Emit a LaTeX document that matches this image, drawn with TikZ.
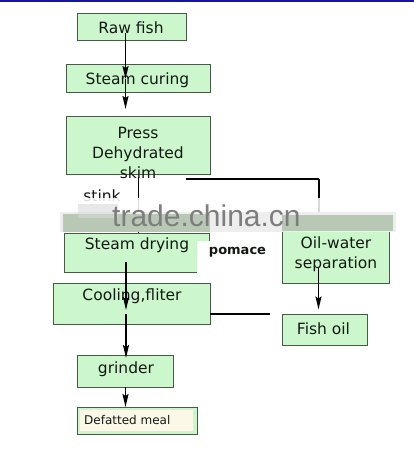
\documentclass[tikz,border=0pt]{standalone}
\usepackage{fontspec}
\setmainfont{DejaVu Sans}
\newfontfamily\wmfont{Liberation Sans}
\newfontfamily\boldfont{DejaVu Sans Bold}
\usetikzlibrary{arrows.meta}
\definecolor{boxgreen}{RGB}{204,246,204}
\definecolor{boxborder}{RGB}{70,90,70}
\definecolor{cream}{RGB}{252,248,232}
\definecolor{topblue}{RGB}{20,20,170}
\definecolor{textc}{RGB}{20,25,20}
\definecolor{wmgray}{RGB}{125,125,125}
\definecolor{wmgreen}{RGB}{184,200,180}
\definecolor{wmlight}{RGB}{238,238,238}
\begin{document}
\begin{tikzpicture}[x=1pt,y=-1pt,
  box/.style={draw=boxborder, line width=0.9pt, fill=boxgreen, inner sep=0pt, rectangle},
  lbl/.style={inner sep=0pt, font=\fontsize{15.5}{20}\selectfont, text=textc, align=center},
  arr/.style={line width=1.6pt, -{Stealth[length=13pt,width=6pt,inset=2pt]}},
  ln/.style={line width=1.3pt}]
\useasboundingbox (0,0) rectangle (414,449);
\fill[white] (0,0) rectangle (414,449);
\fill[topblue] (0,0) rectangle (414,2.5);

% boxes
\node[box, minimum width=109pt, minimum height=27pt] (raw) at (131.5,26.5) {};
\node[lbl] (rawt) at (131,28) {Raw fish};
\node[box, minimum width=144pt, minimum height=28pt] (cur) at (138,78) {};
\node[lbl] (curt) at (137.5,80) {Steam curing};
\node[box, minimum width=144pt, minimum height=58pt] (press) at (138,145) {};
\node[lbl] (presst) at (138,153) {Press\\Dehydrated\\skim};
\node[box, minimum width=145pt, minimum height=39pt] (sdry) at (136.5,252.5) {};
\node[lbl] (sdryt) at (137,245) {Steam drying};
\node[box, minimum width=107pt, minimum height=52pt] (oilw) at (335.5,257) {};
\node[lbl] (oilwt) at (336,254) {Oil-water\\separation};
\fill[white] (197,241) rectangle (277,282);
\node[inner sep=0pt, font=\boldfont\fontsize{13}{13}\selectfont, text=textc] (pom) at (237.5,252) {pomace};
\node[box, minimum width=157pt, minimum height=41pt] (cool) at (131.5,303.5) {};
\node[lbl] (coolt) at (132,296) {Cooling,fliter};
\node[box, minimum width=85pt, minimum height=31pt] (foil) at (324.5,329.5) {};
\node[lbl] (foilt) at (323.5,328.5) {Fish oil};
\node[box, minimum width=96pt, minimum height=32pt] (grind) at (125,371) {};
\node[lbl] (grindt) at (126,369.5) {grinder};
\node[box, minimum width=120pt, minimum height=27pt] (def) at (137,420.5) {};
\fill[cream] (80,409.5) rectangle (193,430.5);
\node[inner sep=0pt, anchor=west, font=\fontsize{12}{12}\selectfont, text=textc] (deft) at (84,420) {Defatted meal};
\node[lbl] (stink) at (102,196) {stink};

% connectors
\coordinate (a1) at (125.5,33);
\coordinate (a2) at (125.5,79);
\coordinate (a3) at (125.5,109);
\draw[arr] (a1) -- (a2);
\draw[arr] (a2) -- (a3);
\coordinate (p1) at (138.5,177);
\coordinate (p2) at (138.5,233);
\draw[ln] (p1) -- (p2);
\coordinate (h1) at (186,179);
\coordinate (h2) at (318.5,179);
\coordinate (h3) at (318.5,231);
\draw[ln] (h1) -- (h2);
\draw[line width=2pt] (h2) -- (h3);
\coordinate (s1) at (126,262);
\coordinate (s2) at (126,310);
\coordinate (s3) at (126,314);
\coordinate (s4) at (126,358);
\draw[arr] (s1) -- (s2);
\draw[arr] (s3) -- (s4);
\coordinate (g1) at (125.5,387);
\coordinate (g2) at (125.5,407);
\draw[arr] (g1) -- (g2);
\coordinate (o1) at (318.5,268);
\coordinate (o2) at (318.5,309.5);
\draw[arr] (o1) -- (o2);
\coordinate (c1) at (210,314);
\coordinate (c2) at (269.5,314);
\draw[line width=1.6pt] (c1) -- (c2);

% watermark
\fill[white, opacity=0.85] (58,198) rectangle (398,232.3);
\fill[wmlight] (60,212) rectangle (396,232.3);
\fill[wmgreen] (63,214) rectangle (210,232.3);
\fill[wmgreen] (282,214.5) rectangle (393,230.6);
\fill[gray!30, opacity=0.6] (78,204) rectangle (118,218);
\node[anchor=base west, inner sep=0pt, font=\wmfont\fontsize{30}{30}\selectfont, text=wmgray] (wm) at (112,226) {trade.china.cn};
\end{tikzpicture}
\end{document}
